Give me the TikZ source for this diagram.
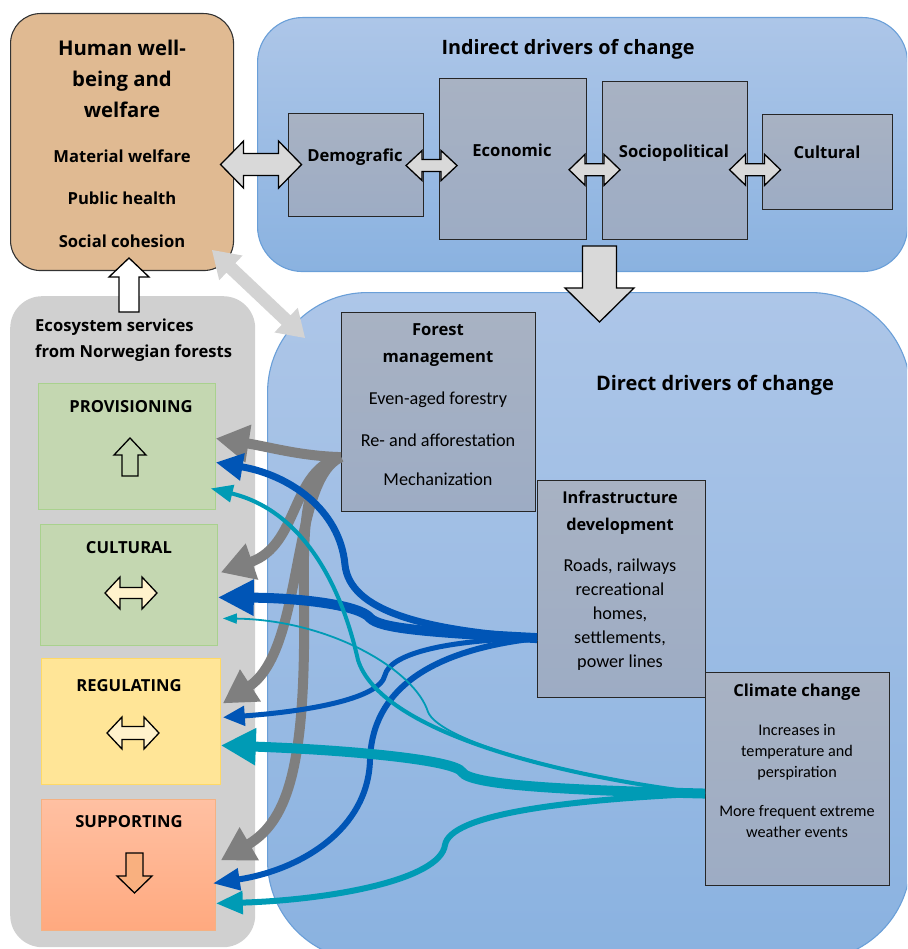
\documentclass[tikz,border=0pt]{standalone}
\usepackage{fontspec}
\setmainfont{Carlito}
\newfontfamily\hdfont{Open Sans}
\usetikzlibrary{arrows.meta,calc}
\definecolor{hwfill}{HTML}{E0BA92}
\definecolor{indtop}{HTML}{ADC6E8}
\definecolor{indbot}{HTML}{8AB2E0}
\definecolor{bord}{HTML}{6A9FD8}
\definecolor{igtop}{HTML}{A8B2C3}
\definecolor{igbot}{HTML}{9DACC4}
\definecolor{ecog}{HTML}{D0D0D0}
\definecolor{grn}{HTML}{C4D7B1}
\definecolor{grnb}{HTML}{A9D18E}
\definecolor{yel}{HTML}{FFE597}
\definecolor{yelb}{HTML}{FFD966}
\definecolor{saltop}{HTML}{FFC0A2}
\definecolor{salbot}{HTML}{FFA97F}
\definecolor{salb}{HTML}{F4B183}
\definecolor{lgr}{HTML}{D9D9D9}
\definecolor{lgr2}{HTML}{D3D3D3}
\definecolor{garr}{HTML}{7F7F7F}
\definecolor{barr}{HTML}{0055B6}
\definecolor{tarr}{HTML}{009BB5}
\definecolor{cream}{HTML}{FFF2CC}
\definecolor{supar}{HTML}{F9B07F}
\newcommand\BlockDbl[7]{\path[#1,shift={#2},rotate=#3] (-#4,0) -- (-#4+#7,-#5) -- (-#4+#7,-#6) -- (#4-#7,-#6) -- (#4-#7,-#5) -- (#4,0) -- (#4-#7,#5) -- (#4-#7,#6) -- (-#4+#7,#6) -- (-#4+#7,#5) -- cycle;}
\newcommand\BlockOne[7]{\path[#1,shift={#2},rotate=#3] (#4,0) -- (#4-#7,-#5) -- (#4-#7,-#6) -- (-#4,-#6) -- (-#4,#6) -- (#4-#7,#6) -- (#4-#7,#5) -- cycle;}
\tikzset{
  anybox/.style={rectangle, inner sep=0pt, anchor=north west},
  ibox/.style={anybox, draw=black!85, line width=1.1pt, top color=igtop, bottom color=igbot},
  hd/.style={font=\hdfont\bfseries\fontsize{16.6}{18}\selectfont, inner sep=0pt, align=center},
  bodytxt/.style={font=\fontsize{18.2}{24}\selectfont, inner sep=0pt, align=center},
  smalltxt/.style={font=\fontsize{16.2}{21}\selectfont, inner sep=0pt, align=center},
  blk/.style={draw=black, line width=1.3pt, fill=lgr, line join=miter},
  garrow/.style={draw=garr, line width=10pt, -{Triangle[length=33pt,width=36pt]}},
  barrow/.style={draw=barr},
  tarrow/.style={draw=tarr},
}
\begin{document}
\begin{tikzpicture}[x=1pt,y=-1pt]
\useasboundingbox (0,0) rectangle (907,949);
\clip (0,0) rectangle (907,949);
% ---------- boxes
\node[anybox, draw=black!80, line width=1.1pt, fill=hwfill, rounded corners=30pt, minimum width=223pt, minimum height=257pt] (hw) at (10,13) {};
\node[anybox, draw=bord, line width=1.1pt, top color=indtop, bottom color=indbot, rounded corners=45pt, minimum width=650pt, minimum height=254pt] (ind) at (257,17) {};
\node[ibox, minimum width=135pt, minimum height=103pt] (demo) at (288,113) {};
\node[ibox, minimum width=147pt, minimum height=161pt] (econ) at (439,78) {};
\node[ibox, minimum width=145pt, minimum height=158pt] (socio) at (602,81) {};
\node[ibox, minimum width=130pt, minimum height=95pt] (cult) at (762,114) {};
\node[anybox, fill=ecog, rounded corners=32pt, minimum width=245pt, minimum height=651pt] (eco) at (10,296) {};
\node[anybox, draw=grnb, fill=grn, line width=0.8pt, minimum width=177pt, minimum height=126pt] (prov) at (38,383) {};
\node[anybox, draw=grnb, fill=grn, line width=0.8pt, minimum width=177pt, minimum height=121pt] (cultes) at (40,524) {};
\node[anybox, draw=yelb, fill=yel, line width=0.8pt, minimum width=179pt, minimum height=126pt] (reg) at (41,658) {};
\node[anybox, draw=salb, top color=saltop, bottom color=salbot, line width=0.8pt, minimum width=174pt, minimum height=131pt] (sup) at (41,799) {};
\node[anybox, draw=bord, line width=1.1pt, top color=indtop, bottom color=indbot, rounded corners=100pt, minimum width=643pt, minimum height=668pt] (dir) at (267,292) {};
\node[ibox, minimum width=194pt, minimum height=199pt] (fm) at (341,312) {};
\node[ibox, minimum width=168pt, minimum height=217pt] (inf) at (537,480) {};
\node[ibox, minimum width=184pt, minimum height=213pt] (cc) at (705,672) {};
% ---------- texts
\node[font=\hdfont\bfseries\fontsize{20.3}{31}\selectfont, align=center, inner sep=0pt] (hwt) at (122,79) {Human well-\\being and\\welfare};
\node[hd] (hw1) at (122,156) {Material welfare};
\node[hd] (hw2) at (122,198) {Public health};
\node[hd] (hw3) at (122,241) {Social cohesion};
\node[font=\hdfont\bfseries\fontsize{19.8}{20}\selectfont, inner sep=0pt] (indt) at (568,49) {Indirect drivers of change};
\node[hd] (demot) at (355,157) {Demografic};
\node[hd] (econt) at (512,150) {Economic};
\node[hd] (sociot) at (674,153) {Sociopolitical};
\node[hd] (cultt) at (827,152) {Cultural};
\node[font=\hdfont\bfseries\fontsize{16.6}{26}\selectfont, align=left, inner sep=0pt, anchor=west] (ecot) at (35,340) {Ecosystem services\\from Norwegian forests};
\node[hd] (provt) at (131,407) {PROVISIONING};
\node[hd] (cultest) at (129,548) {CULTURAL};
\node[hd] (regt) at (129,686) {REGULATING};
\node[hd] (supt) at (129,822) {SUPPORTING};
\node[font=\hdfont\bfseries\fontsize{20}{20}\selectfont, inner sep=0pt] (dirt) at (715,385) {Direct drivers of change};
\node[hd, font=\hdfont\bfseries\fontsize{16.6}{27}\selectfont] (fmt) at (438,345.5) {Forest\\management};
\node[bodytxt] (fm1) at (438,400) {Even-aged forestry};
\node[bodytxt] (fm2) at (438,440) {Re- and afforestation};
\node[bodytxt] (fm3) at (438,479) {Mechanization};
\node[hd, font=\hdfont\bfseries\fontsize{16.3}{27}\selectfont] (inft) at (620,512.5) {Infrastructure\\development};
\node[bodytxt] (inf1) at (620,614.5) {Roads, railways\\recreational\\homes,\\settlements,\\power lines};
\node[hd, font=\hdfont\bfseries\fontsize{16.5}{18}\selectfont] (cct) at (797,692) {Climate change};
\node[smalltxt] (cc1) at (797,752) {Increases in\\temperature and\\perspiration};
\node[smalltxt] (cc2) at (797,821) {More frequent extreme\\weather events};
% ---------- block arrows
\coordinate (ba1) at ($(hw.east)!0.5!(demo.west)+(0,11)$);
\BlockDbl{blk}{(ba1)}{0}{40.5}{23.5}{11}{23}
\coordinate (ba2) at ($(demo.east)!0.5!(econ.west)+(0,3.5)$);
\BlockDbl{blk}{(ba2)}{0}{25.5}{15}{6}{16}
\coordinate (ba3) at ($(econ.east)!0.5!(socio.west)+(0,10)$);
\BlockDbl{blk}{(ba3)}{0}{25.5}{15.5}{6}{16}
\coordinate (ba4) at ($(socio.east)!0.5!(cult.west)+(0,8.5)$);
\BlockDbl{blk}{(ba4)}{0}{25.5}{15.5}{6}{16}
\coordinate (ba5) at (258.5,294);
\BlockDbl{fill=lgr2}{(ba5)}{-43.4}{64}{17}{6.5}{26}
\coordinate (ba6) at (129,285);
\BlockOne{blk, fill=white}{(ba6)}{90}{27}{20}{10}{19}
\coordinate (ba7) at (599.5,284);
\BlockOne{blk}{(ba7)}{-90}{38}{34.5}{17}{34}
% small symbols
\coordinate (sy1) at (130,457);
\BlockOne{draw=black, line width=1.3pt}{(sy1)}{90}{19}{16}{8}{17}
\coordinate (sy2) at (131,593);
\BlockDbl{draw=black, line width=1.3pt, fill=cream}{(sy2)}{0}{26}{16}{5.5}{15}
\coordinate (sy3) at (133,733);
\BlockDbl{draw=black, line width=1.3pt, fill=cream}{(sy3)}{0}{26}{16}{6.5}{15}
\coordinate (sy4) at (134.5,873);
\BlockOne{draw=black, line width=1.3pt, fill=supar}{(sy4)}{-90}{20}{17.5}{8.5}{17}
% ---------- curved arrows
\coordinate (gs) at ($(fm.south west)+(0,-55)$);
\coordinate (bs) at ($(inf.south west)+(0,-60)$);
\coordinate (ts) at ($(cc.west)+(0,14.5)$);
% gray
\draw[garrow] (gs) .. controls (300,456) and (270,447) .. ($(prov.east)+(0,-8)$);
\draw[garrow] (gs) .. controls (290,470) and (300,545) .. ($(cultes.east)+(3,-12.5)$);
\draw[garrow] (gs) .. controls (290,480) and (305,650) .. ($(reg.east)+(2,-18)$);
\draw[garrow] (gs) .. controls (305,470) and (303,520) .. (304,600) .. controls (306,760) and (290,820) .. ($(sup.east)+(5,-4.5)$);
% blue
\draw[barrow, line width=7pt, -{Triangle[length=27pt,width=26pt]}] (bs) .. controls (420,630) and (350,610) .. (345,565) .. controls (340,510) and (290,475) .. ($(prov.east)+(0,16)$);
\draw[barrow, line width=10pt, -{Triangle[length=36pt,width=34pt]}] (bs) .. controls (420,632) and (380,628) .. (370,618) .. controls (360,605) and (300,598) .. ($(cultes.east)+(0,12.5)$);
\draw[barrow, line width=5pt, -{Triangle[length=22pt,width=19pt]}] (bs) .. controls (440,640) and (390,655) .. (385,675) .. controls (380,700) and (300,712) .. ($(reg.east)+(2,-4)$);
\draw[barrow, line width=6pt, -{Triangle[length=27pt,width=21pt]}] (bs) .. controls (430,650) and (372,690) .. (370,760) .. controls (368,830) and (300,870) .. ($(sup.east)+(-3,18.5)$);
% teal
\draw[tarrow, line width=4pt, -{Triangle[length=22pt,width=17pt]}] (ts) .. controls (550,775) and (380,730) .. (358,660) .. controls (340,580) and (300,510) .. ($(prov.east)+(-5,42)$);
\draw[tarrow, line width=1.8pt, -{Triangle[length=14pt,width=10pt]}] (ts) .. controls (560,775) and (440,740) .. (428,712) .. controls (415,670) and (330,620) .. ($(cultes.east)+(5,33.5)$);
\draw[tarrow, line width=10pt, -{Triangle[length=35pt,width=35pt]}] (ts) .. controls (560,790) and (470,785) .. (462,772) .. controls (455,760) and (350,750) .. ($(reg.east)+(0,24)$);
\draw[tarrow, line width=6pt, -{Triangle[length=27pt,width=22pt]}] (ts) .. controls (560,800) and (450,815) .. (445,845) .. controls (440,880) and (330,900) .. ($(sup.east)+(0,38.5)$);
\end{tikzpicture}
\end{document}
